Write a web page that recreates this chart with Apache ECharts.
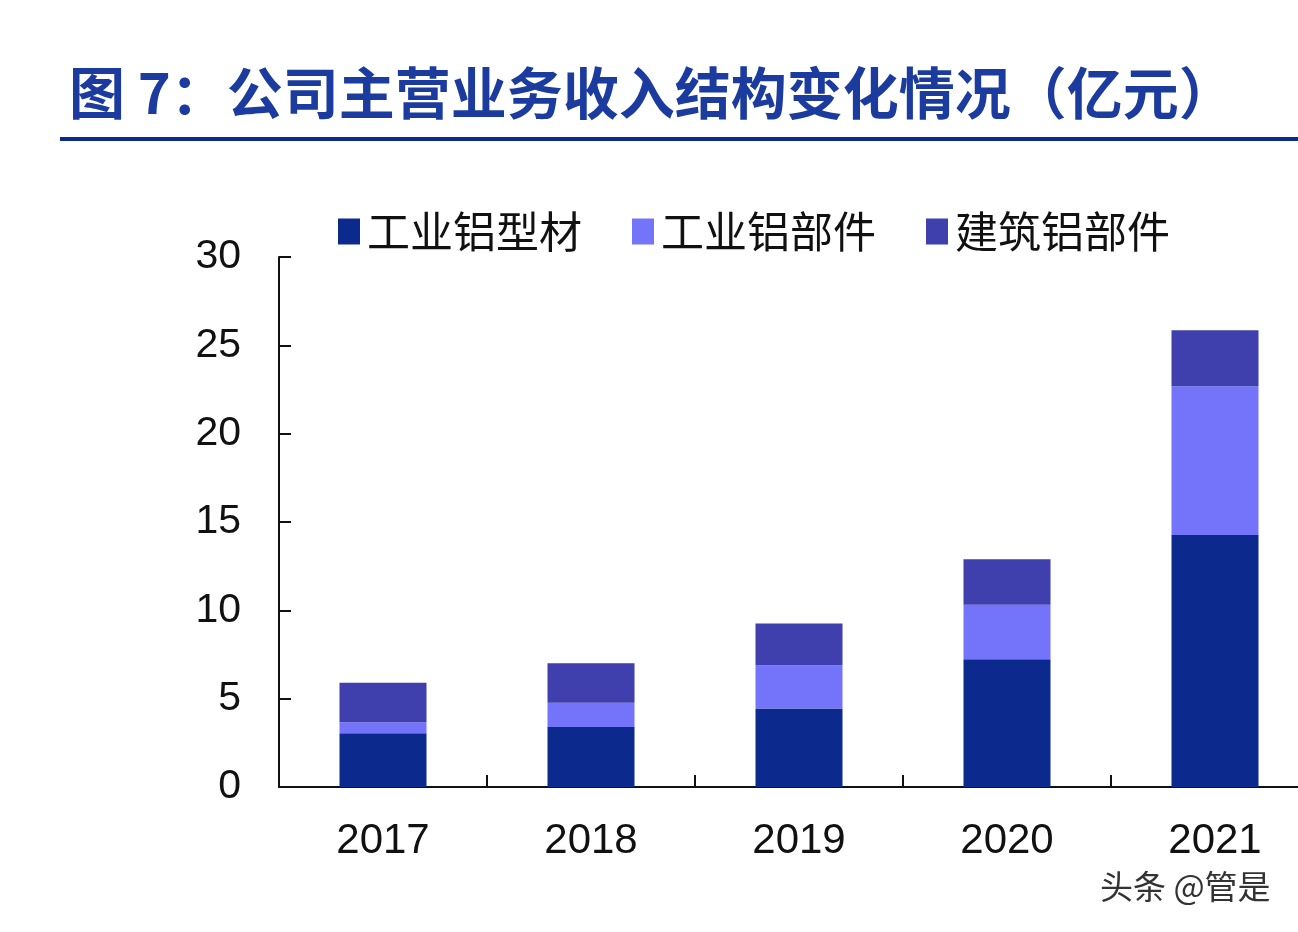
<!DOCTYPE html>
<html>
<head>
<meta charset="utf-8">
<script src="https://cdn.jsdelivr.net/npm/echarts@6/dist/echarts.min.js"></script>
<style>
  html, body { margin: 0; padding: 0; background: #fff; }
  #main { width: 1298px; height: 932px; }
</style>
</head>
<body>
<div id="main"></div>
<script>
const years = ['2017', '2018', '2019', '2020', '2021'];
const profile = [3.04, 3.40, 4.45, 7.23, 14.26];    // 工业铝型材
const parts = [0.62, 1.37, 2.44, 3.09, 8.43];       // 工业铝部件
const building = [2.24, 2.23, 2.37, 2.57, 3.17];    // 建筑铝部件
const seriesNames = ['工业铝型材', '工业铝部件', '建筑铝部件'];
const yTicks = [0, 5, 10, 15, 20, 25, 30];

const colors = ['#0c2a8e', '#7474fb', '#3f3fae'];

function barSeries(name, data, color) {
  return {
    name: name,
    type: 'bar',
    stack: 'total',
    barWidth: 87,
    itemStyle: { color: color },
    data: data,
  };
}

const chart = echarts.init(document.getElementById('main'));
chart.setOption({
  backgroundColor: '#ffffff',
  animation: false,
  title: {
    text: '图 7：公司主营业务收入结构变化情况（亿元）',
    left: 64,
    top: 60,
    textStyle: {
      fontFamily: 'Noto Sans CJK SC',
      fontWeight: 'bold',
      fontSize: 56,
      color: '#1b3c9e',
    },
  },
  graphic: [{
    type: 'rect',
    shape: { x: 60, y: 137, width: 1238, height: 4 },
    style: { fill: '#0c2a8e' },
  }, {
    type: 'text',
    left: 1100,
    top: 870,
    style: {
      text: '头条 @管是',
      font: '33px "Noto Sans CJK SC"',
      fill: '#333',
      shadowColor: 'rgba(0,0,0,0.35)',
      shadowOffsetX: 2,
      shadowOffsetY: 2,
    },
  }],
  legend: {
    data: seriesNames,
    left: 333,
    top: 205,
    icon: 'rect',
    itemWidth: 22,
    itemHeight: 26,
    itemGap: 50,
    textStyle: {
      fontFamily: 'Noto Sans CJK SC',
      fontSize: 43,
      color: '#111',
      padding: [0, 0, 0, 2],
    },
  },
  grid: {
    left: 279,
    top: 257,
    width: 1040,
    bottom: 145,
    containLabel: false,
    outerBoundsMode: 'none',
  },
  xAxis: {
    type: 'category',
    data: years,
    axisLine: { lineStyle: { color: '#111', width: 2 } },
    axisTick: { show: true, inside: true, length: 12, lineStyle: { color: '#111', width: 2 } },
    axisLabel: {
      margin: 33,
      fontFamily: 'Liberation Sans',
      fontSize: 42,
      color: '#111',
    },
  },
  yAxis: {
    type: 'value',
    min: yTicks[0],
    max: yTicks[yTicks.length - 1],
    interval: 5,
    splitLine: { show: false },
    axisLine: { show: true, lineStyle: { color: '#111', width: 2 } },
    axisTick: { show: true, inside: true, length: 12, lineStyle: { color: '#111', width: 2 } },
    axisLabel: {
      margin: 38,
      fontFamily: 'Liberation Sans',
      fontSize: 41,
      color: '#111',
    },
  },
  series: [
    barSeries(seriesNames[0], profile, colors[0]),
    barSeries(seriesNames[1], parts, colors[1]),
    barSeries(seriesNames[2], building, colors[2]),
  ],
});
</script>
</body>
</html>
